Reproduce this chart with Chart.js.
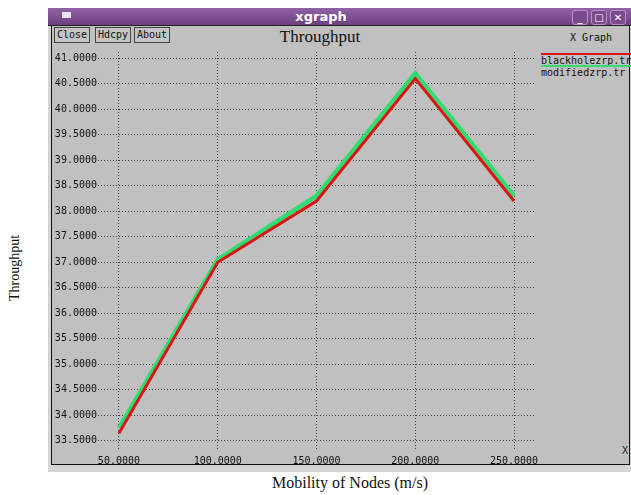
<!DOCTYPE html>
<html>
<head>
<meta charset="utf-8">
<script src="https://cdn.jsdelivr.net/npm/chart.js@4.4.0/dist/chart.umd.min.js"></script>
<style>
  body { margin: 0; width: 631px; height: 495px; background: #fff; position: relative; overflow: hidden; font-family: "DejaVu Sans Mono", monospace; }
  .abs { position: absolute; }
  #win { left: 48px; top: 8px; width: 583px; height: 464px; background: #d4d4d4; }
  #titlebar { left: 48px; top: 8px; width: 583px; height: 17px; background: linear-gradient(#9263a4, #6d4080); border-bottom: 1px solid #222; }
  #wtitle { left: 321px; top: 8px; transform: translateX(-50%); color: #fff; font: bold 13px "DejaVu Sans", sans-serif; line-height: 17px; }
  #icon { left: 62px; top: 12px; width: 9px; height: 6px; background: #e8e8f4; }
  .wbtn { top: 10px; width: 14px; height: 13px; border: 1px solid #b98fcc; border-radius: 3px; background: #7a4a8c; color: #fff; font: bold 10px "DejaVu Sans", sans-serif; text-align: center; line-height: 13px; }
  #plotbg { left: 51px; top: 26px; width: 577px; height: 438px; background: #c0c0c0; border-left: 1px solid #111; border-right: 1px solid #111; border-bottom: 1px solid #111; }
  .btn { top: 27px; height: 14px; border: 1px solid #444; background: #c4c4c4; font-size: 10px; line-height: 14px; padding: 0 2px; color: #111; }
  #ptitle { left: 230px; width: 180px; top: 27px; text-align: center; font: 17px "Liberation Serif", serif; color: #111; }
  #xg { left: 570px; top: 32px; font-size: 10px; color: #111; }
  .lg { left: 541px; width: 90px; font-size: 10px; line-height: 11px; color: #111; border-top-width: 2px; border-top-style: solid; }
  #xunit { left: 622px; top: 445px; font-size: 10px; color: #222; }
  #ylab { left: 15px; top: 268px; transform: translate(-50%, -50%) rotate(-90deg); font: 14px "Liberation Serif", serif; color: #111; white-space: nowrap; }
  #xlab { left: 350px; top: 483px; transform: translate(-50%, -50%); font: 16px "Liberation Serif", serif; color: #111; white-space: nowrap; }
  #c { position: absolute; left: 0; top: 0; }
</style>
</head>
<body>
<div id="win" class="abs"></div>
<div id="titlebar" class="abs"></div>
<div id="wtitle" class="abs">xgraph</div>
<div id="icon" class="abs"></div>
<div class="abs wbtn" style="left:572px">_</div>
<div class="abs wbtn" style="left:591px">□</div>
<div class="abs wbtn" style="left:610px">✕</div>
<div id="plotbg" class="abs"></div>
<div class="abs btn" style="left:54px">Close</div>
<div class="abs btn" style="left:95px">Hdcpy</div>
<div class="abs btn" style="left:134px">About</div>
<div id="ptitle" class="abs">Throughput</div>
<div id="xg" class="abs">X Graph</div>
<div id="legend"></div>
<div id="xunit" class="abs">X</div>
<div id="ylab" class="abs">Throughput</div>
<div id="xlab" class="abs">Mobility of Nodes (m/s)</div>
<canvas id="c" width="631" height="495"></canvas>

<script>
// mobility (m/s)
const mobility = [50, 100, 150, 200, 250];
const seriesNames = ['blackholezrp.tr', 'modifiedzrp.tr'];
const seriesColors = ['#dd1414', '#2fdc72'];
const blackhole = [33.65, 37.0, 38.2, 40.6, 38.2];
const modified = [33.75, 37.05, 38.3, 40.7, 38.3];
const yTicks = [33.5, 34, 34.5, 35, 35.5, 36, 36.5, 37, 37.5, 38, 38.5, 39, 39.5, 40, 40.5, 41];

// legend in xgraph style: a coloured line above each name
document.getElementById('legend').innerHTML = seriesNames.map((n, i) =>
  `<div class="abs lg" style="top:${53 + i * 12}px;border-top-color:${seriesColors[i]}">${n}</div>`).join('');

const toPts = vals => mobility.map((x, i) => ({ x: x, y: vals[i] }));

new Chart(document.getElementById('c'), {
  type: 'line',
  data: {
    datasets: [
      { label: seriesNames[0], data: toPts(blackhole), borderColor: seriesColors[0], borderWidth: 3, pointRadius: 0, tension: 0 },
      { label: seriesNames[1], data: toPts(modified), borderColor: seriesColors[1], borderWidth: 4.5, pointRadius: 0, tension: 0 }
    ]
  },
  options: {
    responsive: false,
    animation: false,
    layout: { padding: { left: 0, top: 52, right: 96, bottom: 0 } },
    plugins: { legend: { display: false }, tooltip: { enabled: false } },
    scales: {
      x: {
        type: 'linear', min: 39.4, max: 260.6,
        afterBuildTicks: s => { s.ticks = mobility.map(v => ({ value: v })); },
        afterFit: s => { s.height = 45; },
        grid: { color: '#444', lineWidth: 1, drawTicks: false },
        border: { display: false, dash: [1, 2] },
        ticks: { padding: 5, color: '#111', font: { family: 'DejaVu Sans Mono', size: 10 }, maxRotation: 0, callback: v => v.toFixed(4) }
      },
      y: {
        min: 33.32, max: 41.12,
        afterBuildTicks: s => { s.ticks = yTicks.map(v => ({ value: v })); },
        afterFit: s => { s.width = 98; },
        grid: { color: '#444', lineWidth: 1, drawTicks: false },
        border: { display: false, dash: [1, 2] },
        ticks: { padding: 1, color: '#111', font: { family: 'DejaVu Sans Mono', size: 10 }, callback: v => v.toFixed(4) }
      }
    }
  }
});
</script>
</body>
</html>
